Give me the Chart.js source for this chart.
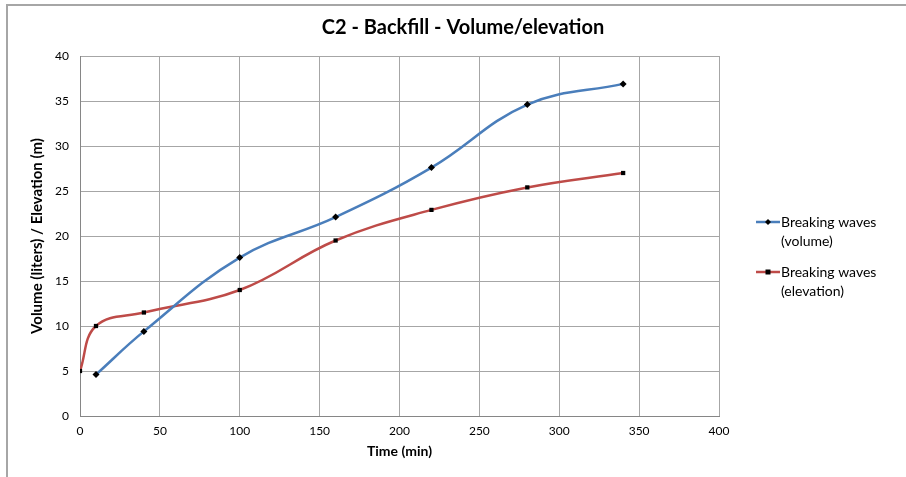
<!DOCTYPE html>
<html><head><meta charset="utf-8">
<script src="https://cdn.jsdelivr.net/npm/chart.js@4/dist/chart.umd.min.js"></script>
<style>html,body{margin:0;padding:0;background:#fff;}canvas{display:block;}</style>
</head><body>
<canvas id="c" width="906" height="477"></canvas>
<script>
const chartTitle = 'C2 - Backfill - Volume/elevation';
const xAxisTitle = 'Time (min)';
const yAxisTitle = 'Volume (liters) / Elevation (m)';
const volumeTimes = [10, 40, 100, 160, 220, 280, 340];
const volumeValues = [4.6, 9.4, 17.6, 22.1, 27.6, 34.6, 36.9];
const elevationTimes = [0, 10, 40, 100, 160, 220, 280, 340];
const elevationValues = [5, 10, 11.5, 14, 19.5, 22.9, 25.4, 27];
const seriesNames = [['Breaking waves', '(volume)'], ['Breaking waves', '(elevation)']];
const seriesColors = ['#4a7ebb', '#be4b48'];

const FONT = 'Lato, "Open Sans", sans-serif';

const extras = {
  id: 'extras',
  beforeDraw(chart) {
    const ctx = chart.ctx;
    ctx.save();
    ctx.fillStyle = '#fff';
    ctx.fillRect(0, 0, chart.width, chart.height);
    ctx.strokeStyle = '#a6a6a6';
    ctx.lineWidth = 2;
    ctx.beginPath();
    ctx.moveTo(7, 477); ctx.lineTo(7, 5); ctx.lineTo(906, 5);
    ctx.stroke();
    ctx.restore();
  },
  afterDraw(chart) {
    const ctx = chart.ctx;
    const area = chart.chartArea;
    ctx.save();
    ctx.fillStyle = '#000';
    ctx.textAlign = 'center';
    ctx.textBaseline = 'middle';
    // title
    ctx.font = 'bold 20px ' + FONT;
    ctx.fillText(chartTitle, 463, 28);
    // axis titles
    ctx.font = 'bold 14px ' + FONT;
    ctx.fillText(xAxisTitle, (area.left + area.right) / 2, 451);
    ctx.save();
    ctx.translate(37, (area.top + area.bottom) / 2);
    ctx.rotate(-Math.PI / 2);
    ctx.font = 'bold 15px ' + FONT;
    ctx.fillText(yAxisTitle, 0, 0);
    ctx.restore();
    // legend
    const legendY = [222, 272];
    const markers = ['rectRot', 'rect'];
    ctx.font = '14px ' + FONT;
    ctx.textAlign = 'left';
    for (let i = 0; i < 2; i++) {
      const y = legendY[i];
      ctx.strokeStyle = seriesColors[i];
      ctx.lineWidth = 2.5;
      ctx.beginPath(); ctx.moveTo(756, y); ctx.lineTo(780, y); ctx.stroke();
      ctx.fillStyle = '#000';
      if (markers[i] === 'rectRot') {
        ctx.beginPath(); ctx.moveTo(768, y - 3); ctx.lineTo(771, y); ctx.lineTo(768, y + 3); ctx.lineTo(765, y); ctx.closePath(); ctx.fill();
      } else {
        ctx.fillRect(765.5, y - 2.5, 5, 5);
      }
      ctx.fillText(seriesNames[i][0], 781, y);
      ctx.fillText(seriesNames[i][1], 781, y + 19);
    }
    ctx.restore();
  }
};

new Chart(document.getElementById('c'), {
  type: 'line',
  data: {
    datasets: [
      {
        label: seriesNames[0].join(' '),
        data: volumeTimes.map((t, i) => ({x: t, y: volumeValues[i]})),
        borderColor: seriesColors[0], borderWidth: 2.5,
        pointStyle: 'rectRot', pointRadius: 3.5, pointBackgroundColor: '#000', pointBorderColor: '#000', pointBorderWidth: 0,
        tension: 0.4, fill: false
      },
      {
        label: seriesNames[1].join(' '),
        data: elevationTimes.map((t, i) => ({x: t, y: elevationValues[i]})),
        borderColor: seriesColors[1], borderWidth: 2.5,
        pointStyle: 'rect', pointRadius: 3, pointBackgroundColor: '#000', pointBorderColor: '#000', pointBorderWidth: 0,
        tension: 0.4, fill: false
      }
    ]
  },
  options: {
    responsive: false, animation: false,
    layout: { padding: { left: 0, right: 187, top: 56, bottom: 0 } },
    plugins: { legend: { display: false }, title: { display: false }, tooltip: { enabled: false } },
    scales: {
      x: {
        type: 'linear', min: 0, max: 400,
        afterFit(s) { s.height = 61; },
        ticks: { stepSize: 50, color: '#000', font: { family: FONT, size: 12 }, padding: 8, maxRotation: 0 },
        grid: { color: '#a6a6a6', drawTicks: false, lineWidth: 1 },
        border: { color: '#868686', width: 1 },
        title: { display: false }
      },
      y: {
        min: 0, max: 40,
        afterFit(s) { s.width = 80; },
        ticks: { stepSize: 5, color: '#000', font: { family: FONT, size: 12 }, padding: 11 },
        grid: { color: '#a6a6a6', drawTicks: false, lineWidth: 1 },
        border: { color: '#868686', width: 1 },
        title: { display: false }
      }
    }
  },
  plugins: [extras]
});
</script>
</body></html>
